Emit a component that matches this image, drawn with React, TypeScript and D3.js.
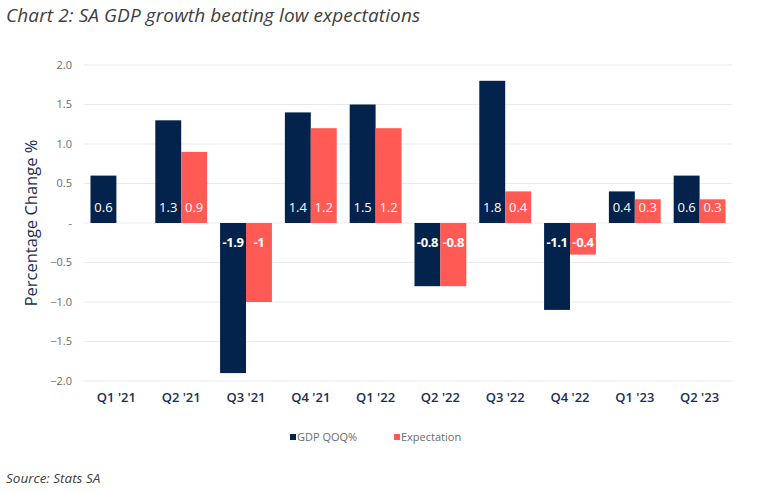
import React from 'react';
import * as d3 from 'd3';

const categories = ["Q1 '21", "Q2 '21", "Q3 '21", "Q4 '21", "Q1 '22", "Q2 '22", "Q3 '22", "Q4 '22", "Q1 '23", "Q2 '23"];
const gdpQoq: (number | null)[] = [0.6, 1.3, -1.9, 1.4, 1.5, -0.8, 1.8, -1.1, 0.4, 0.6];
const expectation: (number | null)[] = [null, 0.9, -1, 1.2, 1.2, -0.8, 0.4, -0.4, 0.3, 0.3];
const yTicks = [2, 1.5, 1, 0.5, 0, -0.5, -1, -1.5, -2];
const seriesNames = ['GDP QOQ%', 'Expectation'];

const W = 761;
const H = 492;
const margin = { top: 65, right: 29, bottom: 111, left: 84 };
const colors = ['#03234d', '#ff5a54'];
const font = '"Open Sans", Lato, sans-serif';

const App: React.FC = () => {
  const x = d3.scaleBand<string>()
    .domain(categories)
    .range([margin.left, W - margin.right])
    .paddingInner(0.2)
    .paddingOuter(0.1);

  const inner = d3.scaleBand<number>()
    .domain([0, 1])
    .range([0, x.bandwidth()]);

  const y = d3.scaleLinear()
    .domain([-2, 2])
    .range([H - margin.bottom, margin.top]);

  const fmtTick = (v: number) => (v === 0 ? '-' : d3.format('.1f')(v));
  const series = [gdpQoq, expectation];

  return (
    <div style={{ position: 'absolute', left: 0, top: 0 }}>
      <svg width={W} height={H} style={{ display: 'block', background: '#fff' }}>
        <text x={6} y={22} fontFamily={font} fontStyle="italic" fontSize={19} letterSpacing={0.1} fill="#404040">
          Chart 2: SA GDP growth beating low expectations
        </text>

        {yTicks.map(t => (
          <g key={t}>
            <line x1={margin.left} x2={W - margin.right} y1={y(t)} y2={y(t)} stroke="#ebebeb" strokeWidth={1} />
            <text x={72} y={y(t)} dy="0.35em" textAnchor="end" fontFamily={font} fontSize={11} fill="#6b6b6b">
              {fmtTick(t)}
            </text>
          </g>
        ))}

        <text
          transform={`translate(37,${(y(2) + y(-2)) / 2}) rotate(-90)`}
          textAnchor="middle"
          fontFamily={font}
          fontSize={16.5}
          fill="#1c2e54"
        >
          Percentage Change %
        </text>

        {series.map((vals, si) =>
          vals.map((v, i) => {
            if (v === null) return null;
            const bx = (x(categories[i]) ?? 0) + (inner(si) ?? 0);
            const bw = inner.bandwidth();
            const top = y(Math.max(0, v));
            const h = Math.abs(y(v) - y(0));
            const neg = v < 0;
            return (
              <g key={`${si}-${i}`}>
                <rect x={bx} y={top} width={bw} height={h} fill={colors[si]} />
                <text
                  x={bx + bw / 2}
                  y={neg ? y(0) + 19 : y(0) - 16}
                  dy="0.35em"
                  textAnchor="middle"
                  fontFamily={font}
                  fontSize={13}
                  fontWeight={neg ? 700 : 400}
                  letterSpacing={neg ? -0.4 : 0}
                  fill="#fff"
                >
                  {String(v)}
                </text>
              </g>
            );
          })
        )}

        {categories.map(c => (
          <text
            key={c}
            x={(x(c) ?? 0) + x.bandwidth() / 2}
            y={402}
            textAnchor="middle"
            fontFamily={font}
            fontSize={13}
            fontWeight={600}
            fill="#1c2e54"
          >
            {c}
          </text>
        ))}

        {seriesNames.map((name, i) => {
          const lx = i === 0 ? 290 : 394;
          return (
            <g key={name}>
              <rect x={lx} y={434} width={6} height={6} fill={colors[i]} />
              <text x={lx + 7} y={437} dy="0.35em" fontFamily={font} fontSize={11} fill="#6b6b6b">
                {name}
              </text>
            </g>
          );
        })}

        <text x={6} y={483} fontFamily={font} fontStyle="italic" fontSize={13.5} fill="#404040">
          Source: Stats SA
        </text>
      </svg>
    </div>
  );
};

export default App;
